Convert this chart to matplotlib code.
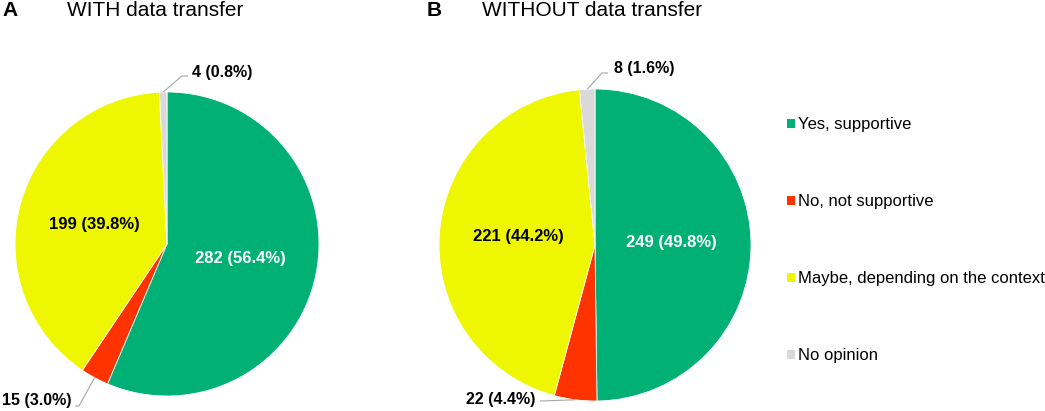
import numpy as np
import matplotlib
matplotlib.use('Agg')
import matplotlib.pyplot as plt
from matplotlib.patches import Patch

# ── DATA ──────────────────────────────────────────────────────────────────────
CATEGORIES = ['Yes, supportive', 'No, not supportive',
              'Maybe, depending on the context', 'No opinion']
WITH_TRANSFER = [282, 15, 199, 4]
WITHOUT_TRANSFER = [249, 22, 221, 8]
PANEL_TITLES = ['WITH data transfer', 'WITHOUT data transfer']
PANEL_LETTERS = ['A', 'B']

COLORS = ['#00B074', '#FF3300', '#EEF700', '#D9D9D9']
TEXT_COLORS = ['white', 'black', 'black', 'black']

# ── LAYOUT (pixels, y measured from the top) ─────────────────────────────────
W, H = 1045, 411
plt.rcParams['font.family'] = ['Liberation Sans', 'DejaVu Sans']


def fy(y):
    # convert a top-down pixel y to data y
    return H - y


panels = [
    dict(values=WITH_TRANSFER, center=(167, 244), radius=152,
         letter_x=2, title_x=67,
         # inner label positions for big slices
         inner={0: (240, 259), 2: (94, 224)},
         # small slices: text position, ha, elbow point, end of line
         outer={3: ((192, 72), 'left', (182, 76), (188, 76)),
                1: ((72, 400), 'right', (79, 406), (75, 406))}),
    dict(values=WITHOUT_TRANSFER, center=(595, 245), radius=156,
         letter_x=427, title_x=482,
         inner={0: (671, 242), 2: (518, 237)},
         outer={3: ((614, 68), 'left', (602, 73), (608, 73)),
                1: ((535, 399), 'right', (540, 401), (540, 401))}),
]

fig = plt.figure(figsize=(W / 100, H / 100), dpi=100)
ax = fig.add_axes([0, 0, 1, 1])

for i, p in enumerate(panels):
    vals = np.array(p['values'])
    total = vals.sum()
    cx, cy = p['center']
    r = p['radius']
    wedges, _ = ax.pie(vals, colors=COLORS, startangle=90, counterclock=False,
                       center=(cx, fy(cy)), radius=r,
                       wedgeprops=dict(edgecolor='white', linewidth=0.6))

    # panel letter and title
    ax.text(p['letter_x'], fy(11), PANEL_LETTERS[i], fontsize=15,
            fontweight='bold', ha='left', va='center')
    ax.text(p['title_x'], fy(11), PANEL_TITLES[i], fontsize=15,
            ha='left', va='center')

    for k, v in enumerate(vals):
        label = f'{v} ({v / total * 100:.1f}%)'
        if k in p['inner']:
            x, y = p['inner'][k]
            ax.text(x, fy(y), label, fontsize=12, fontweight='bold',
                    color=TEXT_COLORS[k], ha='center', va='center')
        elif k in p['outer']:
            (tx, ty), ha, (ex, ey), (hx, hy) = p['outer'][k]
            w = wedges[k]
            mid = np.deg2rad((w.theta1 + w.theta2) / 2)
            sx = cx + r * np.cos(mid)
            sy = fy(cy) + r * np.sin(mid)
            ax.plot([sx, ex, hx], [sy, fy(ey), fy(hy)], color='#A6A6A6',
                    lw=0.8, solid_capstyle='butt')
            ax.text(tx, fy(ty), label, fontsize=11.5, fontweight='bold',
                    color='black', ha=ha, va='center')

# ── LEGEND ────────────────────────────────────────────────────────────────────
handles = [Patch(facecolor=c, edgecolor='none') for c in COLORS]
fig.legend(handles, CATEGORIES, loc='center left',
           bbox_to_anchor=(787 / W, fy(240) / H), frameon=False,
           fontsize=12, handlelength=0.45, handleheight=0.45,
           handletextpad=0.2, labelspacing=3.72, borderpad=0,
           borderaxespad=0)

ax.set_xlim(0, W)
ax.set_ylim(0, H)
ax.set_aspect('equal')
ax.axis('off')

fig.savefig('out.png', dpi=100)
